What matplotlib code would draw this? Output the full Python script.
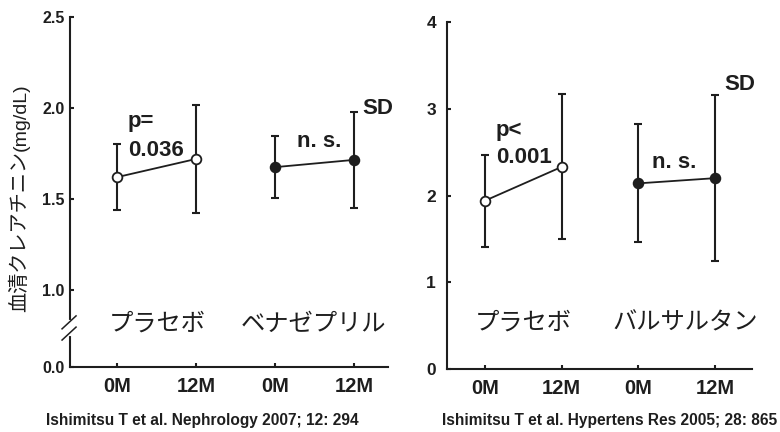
import numpy as np
import matplotlib
matplotlib.use("Agg")
import matplotlib.pyplot as plt

# ---- data -------------------------------------------------------------
timepoints = ["0M", "12M", "0M", "12M"]

# Nephrology 2007 (placebo vs benazepril), serum creatinine mg/dL
neph_placebo_mean = [1.62, 1.72]
neph_placebo_sd = [0.18, 0.295]
neph_benaz_mean = [1.675, 1.715]
neph_benaz_sd = [0.17, 0.265]
neph_groups = ["プラセボ", "ベナゼプリル"]
neph_yticks = [0.0, 1.0, 1.5, 2.0, 2.5]
neph_yticklabels = ["0.0", "1.0", "1.5", "2.0", "2.5"]

# Hypertens Res 2005 (placebo vs valsartan)
hyp_placebo_mean = [1.94, 2.33]
hyp_placebo_sd = [0.53, 0.835]
hyp_valsa_mean = [2.14, 2.20]
hyp_valsa_sd = [0.68, 0.955]
hyp_groups = ["プラセボ", "バルサルタン"]
hyp_yticks = [0, 1, 2, 3, 4]
hyp_yticklabels = ["0", "1", "2", "3", "4"]

ylabel_jp = "血清クレアチニン"
ylabel_unit = "(mg/dL)"
cite_left = "Ishimitsu T et al. Nephrology 2007; 12: 294"
cite_right = "Ishimitsu T et al. Hypertens Res 2005; 28: 865"

# ---- style ------------------------------------------------------------
INK = "#1e1e1e"
LAT = ["Liberation Sans", "DejaVu Sans"]
JP = ["Noto Sans CJK JP", "DejaVu Sans"]
plt.rcParams["font.family"] = LAT

W, H = 780, 432
fig = plt.figure(figsize=(W / 100, H / 100), dpi=100)


def rect(x0, y_top, x1, y_bot):
    return [x0 / W, 1 - y_bot / H, (x1 - x0) / W, (y_bot - y_top) / H]


# broken y axis: values below 1.0 are compressed
def fwd(y):
    y = np.asarray(y, dtype=float)
    return np.where(y >= 1.0, y, 0.577 + 0.423 * y)


def inv(u):
    u = np.asarray(u, dtype=float)
    return np.where(u >= 1.0, u, (u - 0.577) / 0.423)


xpos = np.arange(4)


def style_axes(ax, yticks, yticklabels, ylabsize, ylabpad):
    for s in ("top", "right"):
        ax.spines[s].set_visible(False)
    for s in ("left", "bottom"):
        ax.spines[s].set_linewidth(1.5)
        ax.spines[s].set_color(INK)
    ax.set_xticks(xpos)
    ax.set_xticklabels(timepoints, fontsize=14.5, fontweight="bold", color=INK)
    ax.set_yticks(yticks)
    ax.set_yticklabels(yticklabels, fontsize=ylabsize, fontweight="bold", color=INK)
    ax.tick_params(axis="x", direction="in", length=3, width=1.5, color=INK, pad=7)
    ax.tick_params(axis="y", direction="in", length=3, width=1.5, color=INK, pad=ylabpad)


def draw_group(ax, x, mean, sd, filled):
    ax.errorbar(x, mean, yerr=sd, fmt="none", ecolor=INK, elinewidth=1.5,
                capsize=2.6, capthick=1.5, zorder=2)
    ax.plot(x, mean, "-", color=INK, lw=1.3, zorder=3)
    ax.plot(x, mean, "o", ms=7, mec=INK, mew=1.3,
            mfc=INK if filled else "white", zorder=4)


# ---- left panel -------------------------------------------------------
axL = fig.add_axes(rect(70, 17, 388, 367))
axL.set_yscale("function", functions=(fwd, inv))
axL.set_ylim(0, 2.5)
axL.set_xlim(-0.595, 3.43)
style_axes(axL, neph_yticks, neph_yticklabels, 11.5, 4)
draw_group(axL, xpos[:2], neph_placebo_mean, neph_placebo_sd, False)
draw_group(axL, xpos[2:], neph_benaz_mean, neph_benaz_sd, True)

bold = dict(fontsize=16, fontweight="bold", color=INK, va="baseline", ha="left")
axL.text(0.14, 1.896, "p=", **bold)
axL.text(0.14, 1.736, "0.036", **bold)
axL.text(2.28, 1.786, "n. s.", **bold)
axL.text(3.11, 1.967, "SD", **bold)

xa = axL.get_xaxis_transform()
axL.text(0.51, 0.123, neph_groups[0], transform=xa, family=JP, fontsize=17.5,
         color=INK, ha="center", va="center")
axL.text(2.49, 0.123, neph_groups[1], transform=xa, family=JP, fontsize=17.5,
         color=INK, ha="center", va="center")

# axis break marks
axL.plot([0, 0], [0.094, 0.129], transform=axL.transAxes, color="white",
         lw=3, clip_on=False, zorder=5)
for y0 in (0.109, 0.077):
    axL.plot([-0.025, 0.019], [y0, y0 + 0.037], transform=axL.transAxes,
             color=INK, lw=1.1, clip_on=False, zorder=6)

# ---- right panel ------------------------------------------------------
axR = fig.add_axes(rect(447, 22, 752, 369))
axR.set_ylim(0, 4)
axR.set_xlim(-0.495, 3.48)
style_axes(axR, hyp_yticks, hyp_yticklabels, 12.5, 8)
draw_group(axR, xpos[:2], hyp_placebo_mean, hyp_placebo_sd, False)
draw_group(axR, xpos[2:], hyp_valsa_mean, hyp_valsa_sd, True)

axR.text(0.14, 2.69, "p<", **bold)
axR.text(0.14, 2.37, "0.001", **bold)
axR.text(2.18, 2.32, "n. s.", **bold)
axR.text(3.12, 3.22, "SD", **bold)

xb = axR.get_xaxis_transform()
axR.text(0.5, 0.133, hyp_groups[0], transform=xb, family=JP, fontsize=17.5,
         color=INK, ha="center", va="center")
axR.text(2.61, 0.133, hyp_groups[1], transform=xb, family=JP, fontsize=17.5,
         color=INK, ha="center", va="center")

# ---- y label (two sizes) ---------------------------------------------
t1 = fig.text(20 / W, 1 - 312 / H, ylabel_jp, rotation=90, family=JP,
              fontsize=14.5, color=INK, ha="center", va="bottom")
fig.canvas.draw()
bb = t1.get_window_extent()
fig.text(21 / W, bb.y1 / H, ylabel_unit, rotation=90, family=LAT,
         fontsize=14, color=INK, ha="center", va="bottom")

# ---- citations --------------------------------------------------------
fig.text(202 / W, 1 - 420 / H, cite_left, fontsize=11.2, fontweight="bold",
         color=INK, ha="center", va="center")
fig.text(610 / W, 1 - 420 / H, cite_right, fontsize=11.2, fontweight="bold",
         color=INK, ha="center", va="center")

fig.savefig("out.png", dpi=100, facecolor="white")
